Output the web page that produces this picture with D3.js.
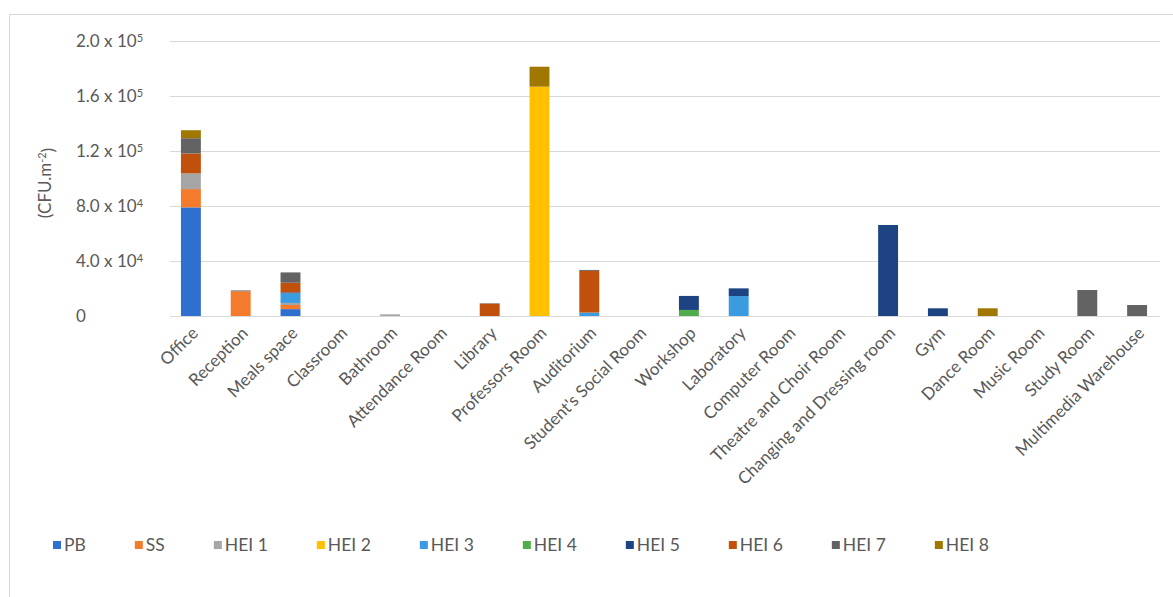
<!DOCTYPE html>
<html>
<head>
<meta charset="utf-8">
<script src="https://cdn.jsdelivr.net/npm/d3@7"></script>
<style>
  html, body { margin: 0; padding: 0; background: #ffffff; }
  svg { display: block; }
  text { font-family: Lato, "Open Sans", sans-serif; fill: #595959; }
</style>
</head>
<body>
<div id="chart"></div>
<script>
// ---------------- data ----------------
const categories = ["Office","Reception","Meals space","Classroom","Bathroom","Attendance Room","Library","Professors Room","Auditorium","Student's Social Room","Workshop","Laboratory","Computer Room","Theatre and Choir Room","Changing and Dressing room","Gym","Dance Room","Music Room","Study Room","Multimedia Warehouse"];
const seriesNames = ["PB","SS","HEI 1","HEI 2","HEI 3","HEI 4","HEI 5","HEI 6","HEI 7","HEI 8"];
//                 Off    Rec    Meal  Cls Bath  Att Lib   Prof    Aud    Stu Wksh   Lab    Comp Thea Chg    Gym   Dance Mus Study  Multi
const PB   = [79000,     0, 5000,  0,    0, 0,    0,      0,     0, 0,     0,     0, 0, 0,     0,    0,    0, 0,     0,    0];
const SS   = [13300, 18000, 3000,  0,    0, 0,    0,      0,     0, 0,     0,     0, 0, 0,     0,    0,    0, 0,     0,    0];
const HEI1 = [11400,     0, 1500,  0, 1200, 0,    0,      0,     0, 0,     0,     0, 0, 0,     0,    0,    0, 0,     0,    0];
const HEI2 = [    0,     0,    0,  0,    0, 0,    0, 166800,     0, 0,     0,     0, 0, 0,     0,    0,    0, 0,     0,    0];
const HEI3 = [    0,     0, 7000,  0,    0, 0,    0,      0,  2500, 0,     0, 14500, 0, 0,     0,    0,    0, 0,     0,    0];
const HEI4 = [    0,     0,    0,  0,    0, 0,    0,      0,     0, 0,  4400,     0, 0, 0,     0,    0,    0, 0,     0,    0];
const HEI5 = [    0,     0,  700,  0,    0, 0,    0,      0,     0, 0, 10200,  5600, 0, 0, 66200, 5600,    0, 0,     0,    0];
const HEI6 = [14500,     0, 7000,  0,    0, 0, 9000,      0, 30300, 0,     0,     0, 0, 0,     0,    0,    0, 0,     0,    0];
const HEI7 = [11100,   600, 7500,  0,    0, 0,  300,      0,   700, 0,     0,     0, 0, 0,     0,    0,    0, 0, 18900, 8000];
const HEI8 = [ 5800,     0,    0,  0,    0, 0,    0,  14500,     0, 0,     0,     0, 0, 0,     0,    0, 5600, 0,     0,    0];
const yTicks = [0, 40000, 80000, 120000, 160000, 200000];
const yTickMantissa = ["0", "4.0", "8.0", "1.2", "1.6", "2.0"];
const yTickExponent = [null, "4", "4", "5", "5", "5"];
const colors = ["#2F6FD0","#F47B2B","#A5A5A5","#FFC000","#3B9BE1","#4FAE4B","#1E4383","#C0500C","#636363","#A07700"];

// ---------------- layout ----------------
const W = 1173, H = 597;
const plot = { left: 166, right: 1162, top: 41, bottom: 316 };

const seriesValues = [PB, SS, HEI1, HEI2, HEI3, HEI4, HEI5, HEI6, HEI7, HEI8];
const rows = categories.map((c, i) => {
  const r = { cat: c };
  seriesNames.forEach((s, j) => { r[s] = seriesValues[j][i]; });
  return r;
});
const stacked = d3.stack().keys(seriesNames)(rows);

const svg = d3.select("#chart").append("svg").attr("width", W).attr("height", H);

// outer frame
svg.append("rect").attr("x", 9.5).attr("y", 14.5).attr("width", 1300).attr("height", 800)
  .attr("fill", "none").attr("stroke", "#d9d9d9").attr("stroke-width", 1);

const x = d3.scaleBand().domain(categories).range([plot.left, plot.right]).paddingInner(0.6).paddingOuter(0.3);
const y = d3.scaleLinear().domain([0, 200000]).range([plot.bottom, plot.top]);

// gridlines
svg.append("g").selectAll("line").data(yTicks).join("line")
  .attr("x1", plot.left + 4).attr("x2", plot.right - 2)
  .attr("y1", d => Math.round(y(d)) + 0.5).attr("y2", d => Math.round(y(d)) + 0.5)
  .attr("stroke", "#d9d9d9").attr("stroke-width", 1);

// y tick labels
const yl = svg.append("g").selectAll("text").data(yTicks).join("text")
  .attr("x", 76).attr("y", d => y(d)).attr("dy", "0.36em")
  .style("font-size", "17px");
yl.append("tspan").text((d, i) => yTickMantissa[i] + (yTickExponent[i] ? " x 10" : ""));
yl.filter((d, i) => yTickExponent[i]).append("tspan")
  .attr("dy", "-0.45em").style("font-size", "11px")
  .text(d => yTickExponent[yTicks.indexOf(d)]);

// y axis title
const yt = svg.append("text")
  .attr("transform", "translate(51," + 183 + ") rotate(-90)")
  .attr("text-anchor", "middle").style("font-size", "17px");
yt.append("tspan").text("(CFU.m");
yt.append("tspan").attr("dy", "-0.45em").style("font-size", "11px").text("-2");
yt.append("tspan").attr("dy", "0.45em").text(")");

// bars
svg.append("g").selectAll("g").data(stacked).join("g")
  .attr("fill", (d, i) => colors[i])
  .selectAll("rect").data(d => d).join("rect")
  .attr("x", d => x(d.data.cat))
  .attr("width", x.bandwidth())
  .attr("y", d => y(d[1]))
  .attr("height", d => Math.max(0, y(d[0]) - y(d[1])));

// x labels
svg.append("g").selectAll("text").data(categories).join("text")
  .attr("transform", d => "translate(" + (x(d) + x.bandwidth() / 2 + 4) + "," + 330 + ") rotate(-45)")
  .attr("text-anchor", "end").attr("dy", "0.35em")
  .style("font-size", "17px")
  .text(d => d);

// legend
const leg = svg.append("g").attr("transform", "translate(0,545)");
let lx = 53;
seriesNames.forEach((s, i) => {
  const g = leg.append("g").attr("transform", "translate(" + lx + ",0)");
  g.append("rect").attr("x", 0).attr("y", -4).attr("width", 8).attr("height", 8).attr("fill", colors[i]);
  const t = g.append("text").attr("x", 11).attr("dy", "0.36em").style("font-size", "17.5px").text(s);
  const tw = t.node().getComputedTextLength();
  lx += 11 + tw + 49;
});
</script>
</body>
</html>
